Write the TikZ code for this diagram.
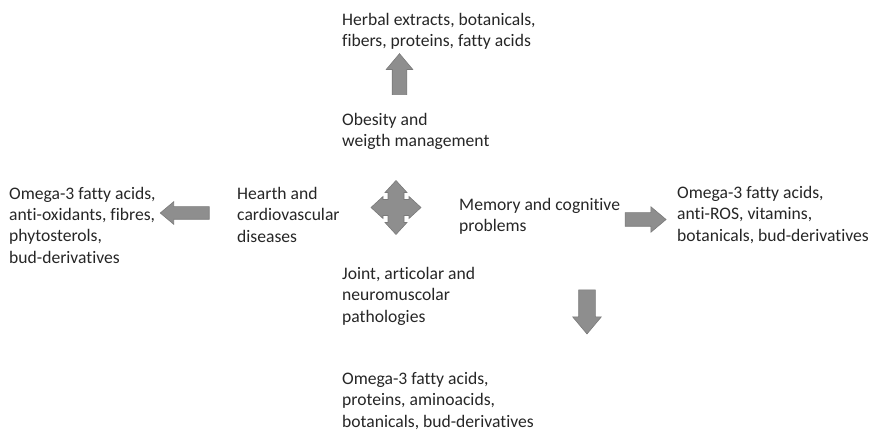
\documentclass[tikz,border=0pt]{standalone}
\usepackage{fontspec}
\setmainfont{Carlito}[Ligatures=NoCommon]
\usepackage{xcolor}
\usetikzlibrary{shapes,arrows,positioning}
\definecolor{arrowgray}{RGB}{142,142,142}
\definecolor{arrowedge}{RGB}{122,122,122}
\definecolor{textgray}{RGB}{38,38,38}

\begin{document}
\begin{tikzpicture}[
    x=1pt, y=-1pt,
    txt/.style={anchor=base west, inner sep=0pt, align=left, text=textgray, font=\fontsize{17.6}{21.3}\selectfont},
    blk/.style={single arrow, draw=arrowedge, fill=arrowgray, single arrow tip angle=80, line width=0.6pt},
]
\useasboundingbox (0,0) rectangle (877,430);

% Centre
\fill[arrowgray, draw=arrowedge, line width=0.6pt] (396,207.5)
    +(0,-27) -- +(11,-15) -- +(8,-15) -- +(8,-8) -- +(13,-8) -- +(13,-11) -- +(25,0)
    -- +(13,11) -- +(13,8) -- +(8,8) -- +(8,15) -- +(11,15) -- +(0,27)
    -- +(-11,15) -- +(-8,15) -- +(-8,8) -- +(-13,8) -- +(-13,11) -- +(-25,0)
    -- +(-13,-11) -- +(-13,-8) -- +(-8,-8) -- +(-8,-15) -- +(-11,-15) -- cycle;

% Top
\node[txt] (obesity) at (342,147) {Obesity and\\weigth management};
\node[blk, shape border rotate=90, inner sep=7pt, minimum height=41pt, single arrow head extend=6pt] (uparrow) at (399.5,78.5) {};
\node[txt] (herbal) at (342,46.5) {Herbal extracts, botanicals,\\fibers, proteins, fatty acids};

% Left
\node[txt] (hearth) at (237,242) {Hearth and\\cardiovascular\\diseases};
\node[blk, shape border rotate=180, inner sep=6pt, minimum height=49pt, single arrow head extend=5pt] (leftarrow) at (188.5,213) {};
\node[txt] (omegaleft) at (9,263) {Omega-3 fatty acids,\\anti-oxidants, fibres,\\phytosterols,\\bud-derivatives};

% Right
\node[txt] (memory) at (459,232) {Memory and cognitive\\problems};
\node[blk, inner sep=6.5pt, minimum height=41pt, single arrow head extend=6pt] (rightarrow) at (641.5,219.5) {};
\node[txt] (omegaright) at (677,241) {Omega-3 fatty acids,\\anti-ROS, vitamins,\\botanicals, bud-derivatives};

% Bottom
\node[txt] (joint) at (342,322) {Joint, articolar and\\neuromuscolar\\pathologies};
\node[blk, shape border rotate=270, inner sep=8pt, minimum height=44pt, single arrow head extend=6pt] (downarrow) at (587,307) {};
\node[txt] (omegabottom) at (342,427) {Omega-3 fatty acids,\\proteins, aminoacids,\\botanicals, bud-derivatives};

\end{tikzpicture}
\end{document}
